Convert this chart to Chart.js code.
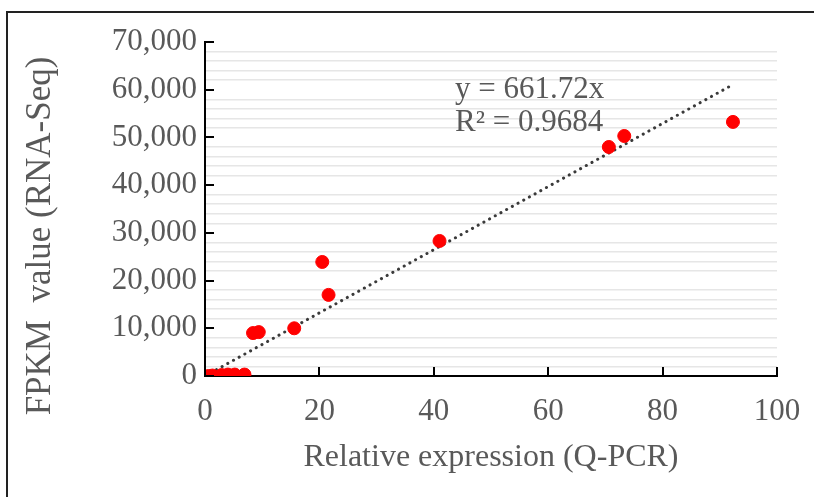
<!DOCTYPE html>
<html lang="en">
  <head>
    <meta charset="UTF-8" />
    <title>FPKM vs Q-PCR</title>
    <script src="https://cdn.jsdelivr.net/npm/chart.js"></script>
    <style>
      body { margin: 0; background: #fff; }
      #wrap { width: 814px; height: 497px; position: relative; }
    </style>
  </head>
  <body>
    <div id="wrap"><canvas id="scatterChart"></canvas></div>

    <script>
      // Q-PCR relative expression (x) and FPKM value (y)
      const qpcr = [0.6, 1.3, 2.9, 4.0, 5.2, 6.9, 8.4, 9.4, 15.6, 20.5, 21.6, 41.0, 70.6, 73.3, 92.3];
      const fpkm = [0, 100, 200, 300, 300, 300, 9000, 9200, 10000, 23900, 17000, 28300, 48000, 50300, 53250];

      // Linear trend through origin (Excel: y = 661.72x)
      const slope = 661.72;
      const rSquared = "0.9684";
      const trendX = [0, 92.5];

      const xTicks = [0, 20, 40, 60, 80, 100];
      const yTicks = [0, 10000, 20000, 30000, 40000, 50000, 60000, 70000];
      const yTitle = "FPKM  value (RNA-Seq)";

      const FONT = "'Liberation Serif', 'Times New Roman', serif";
      const TEXT = "#595959";

      const points = qpcr.map((x, i) => ({ x: x, y: fpkm[i] }));
      const trend = trendX.map((x) => ({ x: x, y: slope * x }));

      // frame, y title, inward tick marks and the equation label
      const extras = {
        id: "extras",
        beforeDraw(chart) {
          const ctx = chart.ctx;
          ctx.save();
          ctx.strokeStyle = "#222";
          ctx.lineWidth = 2;
          ctx.beginPath();
          ctx.moveTo(7, 497);
          ctx.lineTo(7, 12);
          ctx.lineTo(814, 12);
          ctx.stroke();

          // y axis title sits a bit below the plot centre in the original
          ctx.translate(41, 236);
          ctx.rotate(-Math.PI / 2);
          ctx.fillStyle = TEXT;
          ctx.font = "35px " + FONT;
          ctx.textAlign = "center";
          ctx.textBaseline = "middle";
          ctx.fillText(yTitle, 0, 0);
          ctx.restore();
        },
        afterDatasetsDraw(chart) {
          const ctx = chart.ctx;
          const xs = chart.scales.x;
          const ys = chart.scales.y;
          const area = chart.chartArea;
          ctx.save();
          ctx.strokeStyle = "#000";
          ctx.lineWidth = 2;
          ctx.beginPath();
          yTicks.forEach((v) => {
            const py = Math.round(ys.getPixelForValue(v));
            ctx.moveTo(area.left, py);
            ctx.lineTo(area.left + 9, py);
          });
          xTicks.forEach((v) => {
            const px = Math.round(xs.getPixelForValue(v));
            ctx.moveTo(px, area.bottom);
            ctx.lineTo(px, area.bottom - 9);
          });
          ctx.stroke();

          ctx.fillStyle = TEXT;
          ctx.font = "31px " + FONT;
          ctx.textBaseline = "alphabetic";
          const tx = xs.getPixelForValue(43.7);
          ctx.fillText("y = " + slope + "x", tx, 98);
          ctx.fillText("R\u00B2 = " + rSquared, tx, 131);
          ctx.restore();
        },
      };

      const ctx1 = document.getElementById("scatterChart").getContext("2d");
      new Chart(ctx1, {
        type: "scatter",
        data: {
          datasets: [
            {
              label: "FPKM",
              data: points,
              backgroundColor: "#ff0000",
              borderColor: "#ff0000",
              pointRadius: 6.5,
              pointHoverRadius: 6.5,
              order: 1,
            },
            {
              label: "Linear",
              type: "line",
              data: trend,
              borderColor: "#3a3a3a",
              borderWidth: 3,
              borderDash: [0.1, 6.4],
              borderCapStyle: "round",
              pointRadius: 0,
              fill: false,
              order: 2,
            },
          ],
        },
        options: {
          responsive: true,
          maintainAspectRatio: false,
          animation: false,
          layout: { padding: { left: 20, right: 37, top: 42, bottom: 20 } },
          plugins: {
            legend: { display: false },
            tooltip: { enabled: false },
          },
          scales: {
            x: {
              type: "linear",
              min: 0,
              max: 100,
              afterFit: (scale) => {
                scale.height = 497 - 376 - 20;
                scale.paddingRight = 0;
                scale.paddingLeft = 0;
              },
              ticks: {
                stepSize: 20,
                color: TEXT,
                padding: 17,
                font: { family: FONT, size: 31 },
              },
              grid: { display: false, drawTicks: false },
              border: { display: true, color: "#000", width: 2 },
              title: {
                display: true,
                text: "Relative expression (Q-PCR)",
                color: TEXT,
                font: { family: FONT, size: 32 },
                padding: { top: 4, bottom: 0 },
              },
            },
            y: {
              type: "linear",
              min: 0,
              max: 70000,
              afterFit: (scale) => {
                scale.width = 205 - 20;
                scale.paddingTop = 0;
                scale.paddingBottom = 0;
              },
              ticks: {
                stepSize: 2000,
                autoSkip: false,
                color: TEXT,
                padding: 8,
                font: { family: FONT, size: 31 },
                callback: (v) => (v % 10000 === 0 ? v.toLocaleString("en-US") : ""),
              },
              grid: {
                drawTicks: false,
                lineWidth: 1.5,
                color: (c) => (c.tick && c.tick.value % 10000 === 0 ? "rgba(0,0,0,0)" : "#e6e6e6"),
              },
              border: { display: true, color: "#000", width: 2 },
              title: { display: false },
            },
          },
        },
        plugins: [extras],
      });
    </script>
  </body>
</html>
